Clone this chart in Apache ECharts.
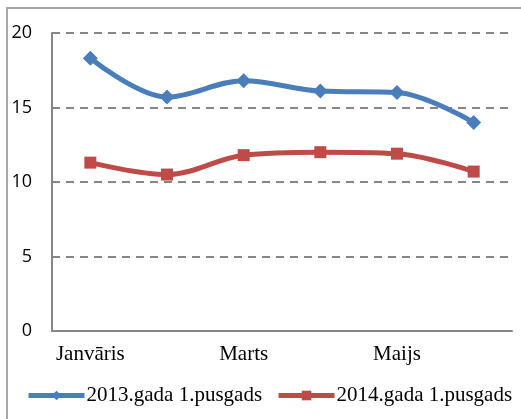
<!DOCTYPE html>
<html>
<head>
<meta charset="utf-8">
<script src="https://cdn.jsdelivr.net/npm/echarts@6/dist/echarts.min.js"></script>
<style>
  html, body { margin: 0; padding: 0; background: #fff; }
  #chart {
    position: absolute;
    left: 0; top: 0;
    width: 521px; height: 419px;
  }
  .frame {
    position: absolute;
    left: 6px; top: 7px;
    width: 530px; height: 430px;
    border-top: 2px solid #a6a6a6;
    border-left: 2px solid #a6a6a6;
  }
</style>
</head>
<body>
<div class="frame"></div>
<div id="chart"></div>
<script>
const months = ["Janvāris", "Februāris", "Marts", "Aprīlis", "Maijs", "Jūnijs"];
const yTicks = [0, 5, 10, 15, 20];
const series2013 = [18.3, 15.7, 16.8, 16.1, 16.0, 14.0];
const series2014 = [11.3, 10.5, 11.8, 12.0, 11.9, 10.7];
const seriesNames = ["2013.gada 1.pusgads", "2014.gada 1.pusgads"];

const chart = echarts.init(document.getElementById("chart"));
chart.setOption({
  animation: false,
  grid: { left: 52, right: 9, top: 33, bottom: 88 },
  legend: {
    bottom: 13,
    left: 26,
    width: 495,
    padding: 0,
    itemWidth: 56,
    itemHeight: 12,
    itemGap: 14,
    textStyle: { fontFamily: "Liberation Serif", fontSize: 21, color: "#000", padding: [0, 0, 0, -3] },
    lineStyle: { width: 5 },
    data: seriesNames
  },
  xAxis: {
    type: "category",
    data: months,
    boundaryGap: true,
    axisLine: { lineStyle: { color: "#868686", width: 2 } },
    axisTick: { show: false },
    axisLabel: {
      interval: 1,
      margin: 13,
      fontFamily: "Liberation Serif",
      fontSize: 21,
      color: "#000"
    }
  },
  yAxis: {
    type: "value",
    min: yTicks[0],
    max: yTicks[yTicks.length - 1],
    interval: 5,
    axisLine: { show: true, lineStyle: { color: "#868686", width: 2 } },
    axisTick: { show: false },
    axisLabel: {
      margin: 20,
      fontFamily: "Open Sans",
      fontSize: 18,
      color: "#000"
    },
    splitLine: {
      lineStyle: { color: "#868686", width: 2, type: [8, 6] }
    }
  },
  series: [
    {
      name: seriesNames[0],
      type: "line",
      smooth: 0.35,
      data: series2013,
      symbol: "diamond",
      symbolSize: 15,
      color: "#4a7ebb",
      lineStyle: { width: 5 }
    },
    {
      name: seriesNames[1],
      type: "line",
      smooth: 0.35,
      data: series2014,
      symbol: "rect",
      symbolSize: 12,
      color: "#be4b48",
      lineStyle: { width: 5 }
    }
  ]
});
</script>
</body>
</html>
